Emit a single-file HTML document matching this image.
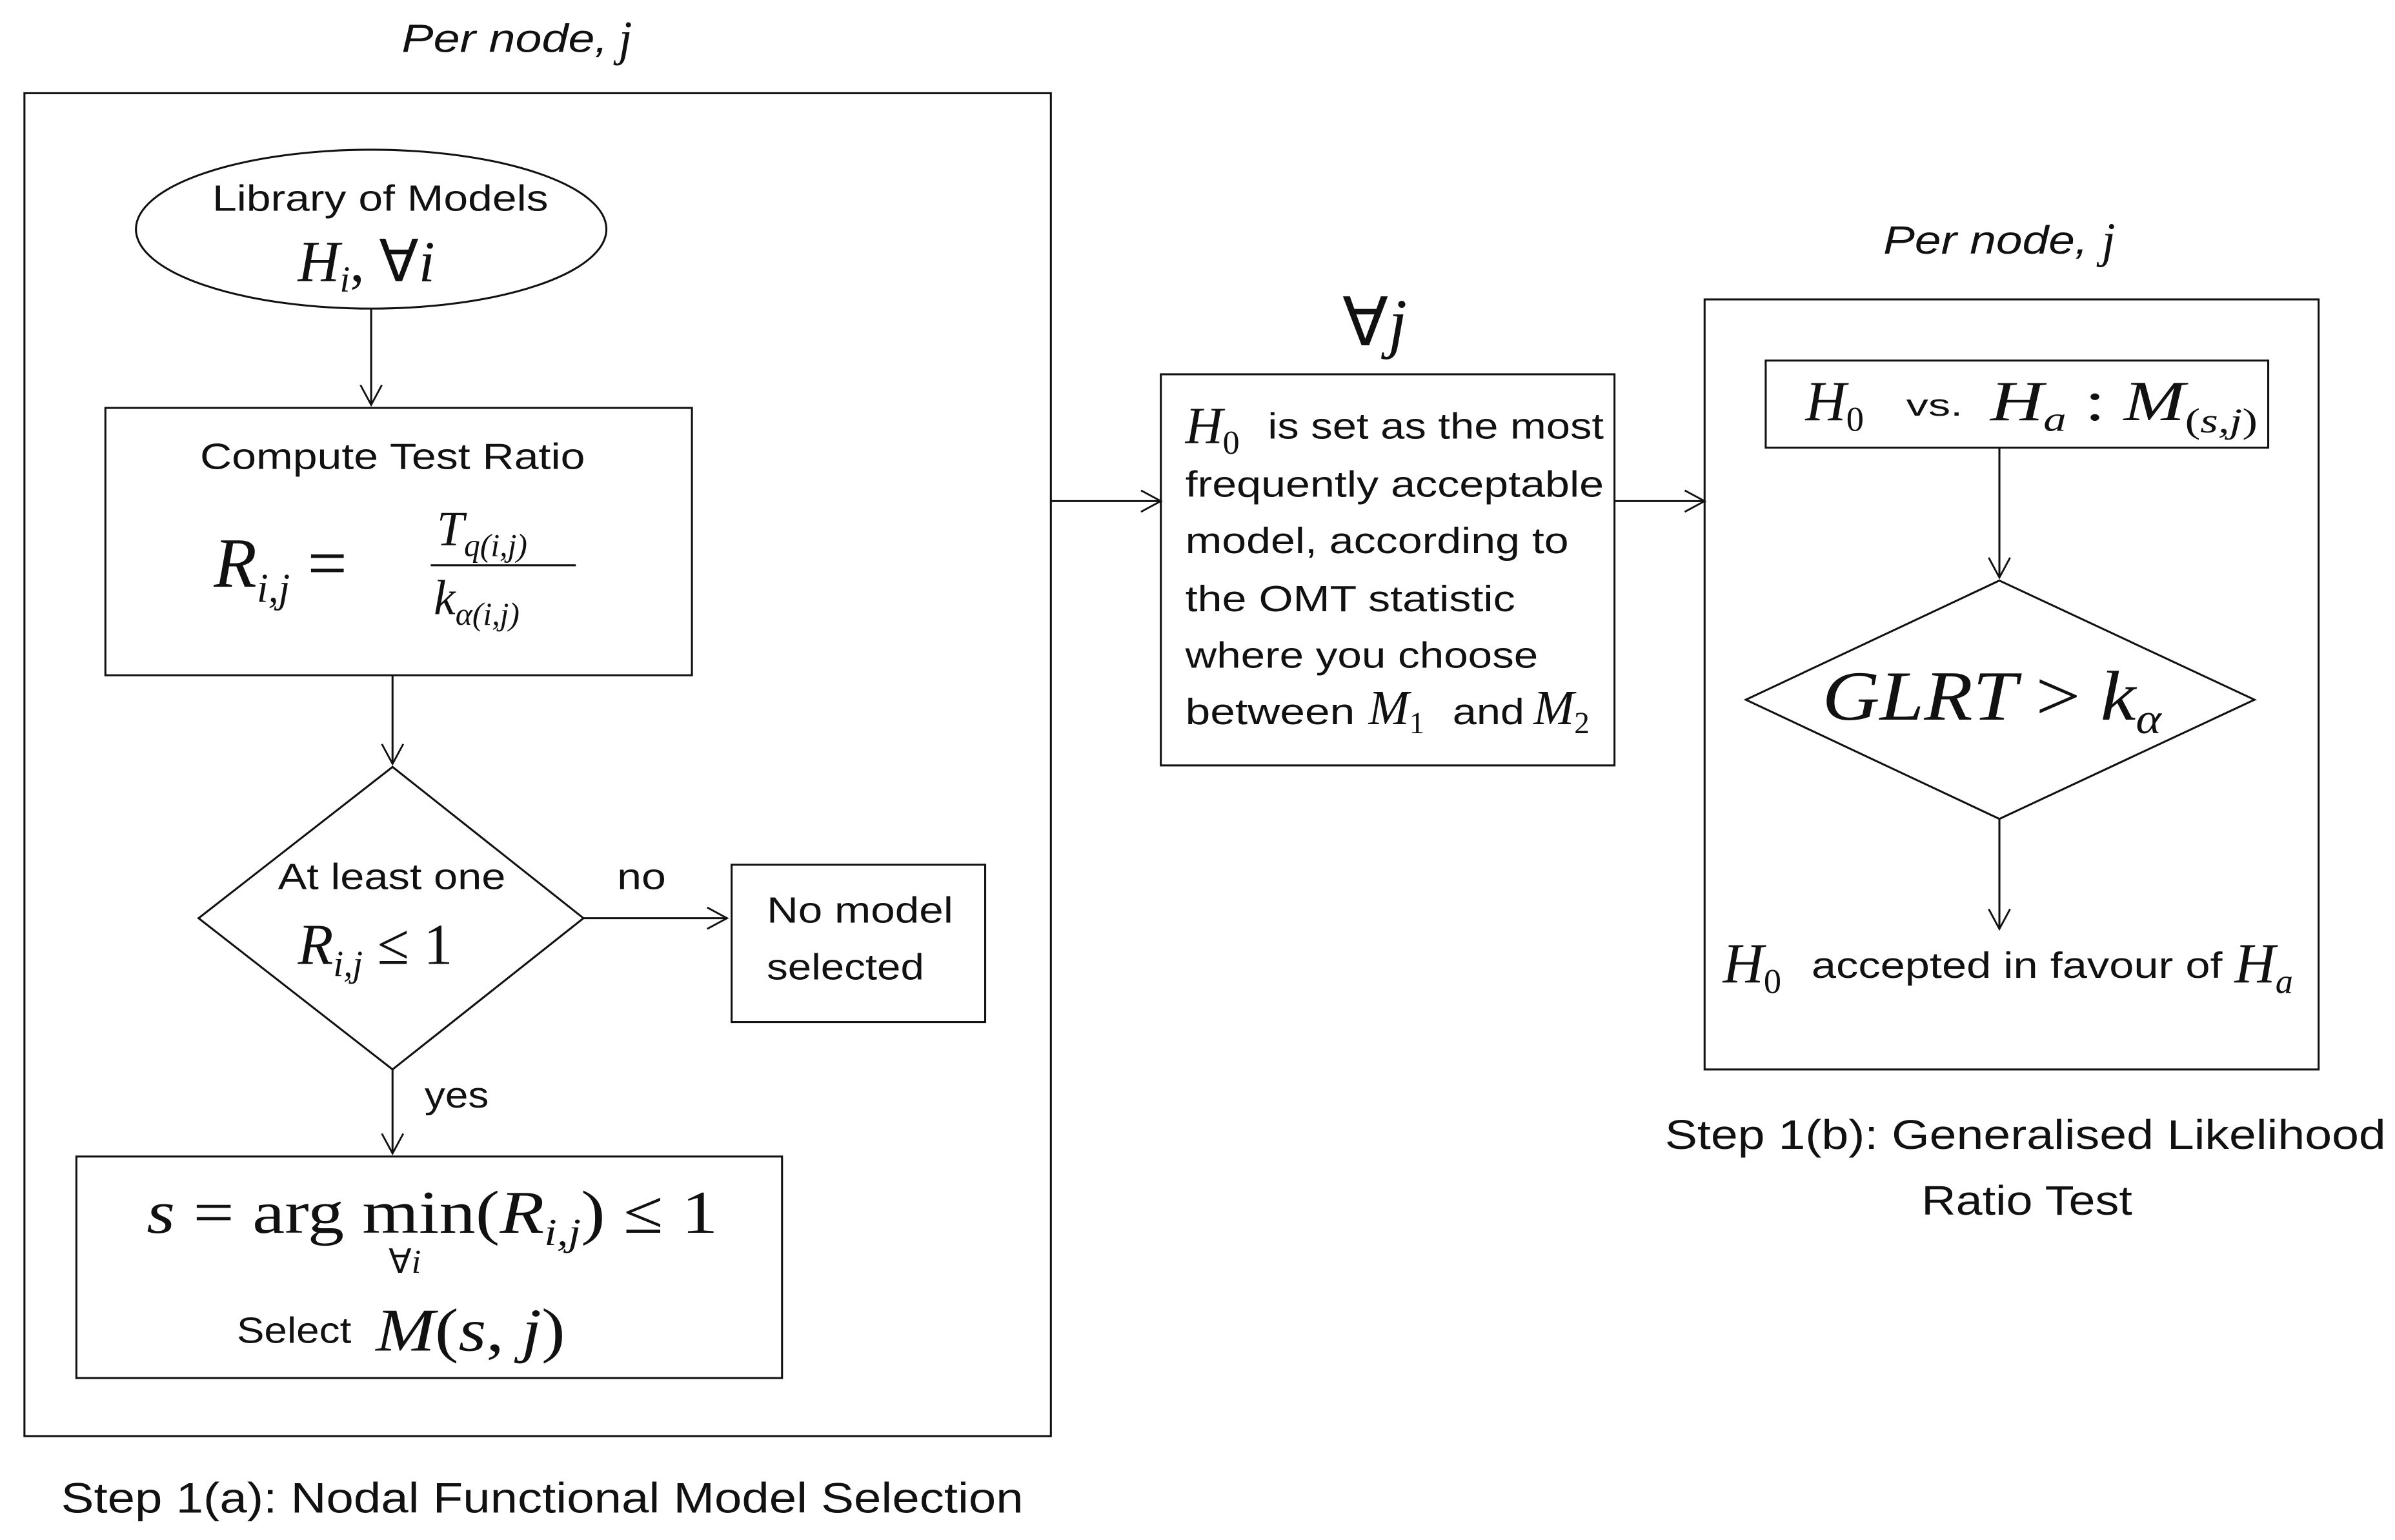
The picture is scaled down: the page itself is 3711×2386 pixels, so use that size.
<!DOCTYPE html>
<html><head><meta charset="utf-8"><style>
html,body{margin:0;padding:0;background:#fff;}
svg{display:block;}
.s{font-family:"Liberation Sans",sans-serif;fill:#111;}
.m{font-family:"Liberation Serif",serif;font-style:italic;fill:#111;}
.r{font-family:"Liberation Serif",serif;fill:#111;}
</style></head><body>
<svg width="3711" height="2386" viewBox="0 0 1568 1008" preserveAspectRatio="none" xmlns="http://www.w3.org/2000/svg">
<defs><marker id="a" markerWidth="20" markerHeight="20" refX="14" refY="8" orient="auto" markerUnits="userSpaceOnUse"><polyline points="1,1 14,8 1,15" fill="none" stroke="#111" stroke-width="1.2"/></marker></defs>
<g fill="none" stroke="#111" stroke-width="1.3">
<rect x="16" y="61" width="672" height="879"/>
<ellipse cx="243" cy="150" rx="154" ry="52"/>
<rect x="69" y="267" width="384" height="175"/>
<polygon points="257,502 382,601 257,700 130,601"/>
<rect x="479" y="566" width="166" height="103"/>
<rect x="50" y="757" width="462" height="145"/>
<rect x="760" y="245" width="297" height="256"/>
<rect x="1116" y="196" width="402" height="504"/>
<rect x="1156" y="236" width="329" height="57"/>
<polygon points="1309,380 1476,458 1309,536 1143,458"/>
<line x1="243" y1="202" x2="243" y2="265" marker-end="url(#a)"/>
<line x1="257" y1="442" x2="257" y2="500" marker-end="url(#a)"/>
<line x1="382" y1="601" x2="476" y2="601" marker-end="url(#a)"/>
<line x1="257" y1="700" x2="257" y2="755" marker-end="url(#a)"/>
<line x1="688" y1="328" x2="760" y2="328" marker-end="url(#a)"/>
<line x1="1057" y1="328" x2="1116" y2="328" marker-end="url(#a)"/>
<line x1="1309" y1="293" x2="1309" y2="378" marker-end="url(#a)"/>
<line x1="1309" y1="536" x2="1309" y2="608" marker-end="url(#a)"/>
<line x1="282" y1="370" x2="377" y2="370"/>
</g>
<text class="s" x="263" y="34" font-size="26" font-style="italic" textLength="135" lengthAdjust="spacingAndGlyphs">Per node,</text>
<text class="m" x="405" y="36" font-size="32">j</text>
<text class="s" x="139" y="138" font-size="24" textLength="220" lengthAdjust="spacingAndGlyphs">Library of Models</text>
<text class="m" x="195" y="184" font-size="38">H<tspan font-size="24" dy="7">i</tspan><tspan dy="-7" font-style="normal">, ∀</tspan>i</text>
<text class="s" x="131" y="307" font-size="24" textLength="252" lengthAdjust="spacingAndGlyphs">Compute Test  Ratio</text>
<text class="m" x="140" y="384" font-size="46">R<tspan font-size="27" dy="10">i,j</tspan><tspan class="r" font-style="normal" dy="-10"> =</tspan></text>
<text class="m" x="286" y="357" font-size="32">T<tspan font-size="21" dy="7">q(i,j)</tspan></text>
<text class="m" x="284" y="402" font-size="32">k<tspan font-size="21" dy="7">α(i,j)</tspan></text>
<text class="s" x="182" y="582" font-size="24" textLength="149" lengthAdjust="spacingAndGlyphs">At least one</text>
<text class="m" x="195" y="631" font-size="38">R<tspan font-size="24" dy="8">i,j</tspan><tspan font-style="normal" dy="-8"> ≤ 1</tspan></text>
<text class="s" x="404" y="582" font-size="24" textLength="32" lengthAdjust="spacingAndGlyphs">no</text>
<text class="s" x="502" y="604" font-size="24" textLength="122" lengthAdjust="spacingAndGlyphs">No model</text>
<text class="s" x="502" y="641" font-size="24" textLength="103" lengthAdjust="spacingAndGlyphs">selected</text>
<text class="s" x="278" y="725" font-size="24" textLength="42" lengthAdjust="spacingAndGlyphs">yes</text>
<text class="m" x="96" y="807" font-size="40" textLength="374" lengthAdjust="spacingAndGlyphs">s <tspan font-style="normal">= arg min(</tspan>R<tspan font-size="25" dy="8">i,j</tspan><tspan font-style="normal" dy="-8">) ≤ 1</tspan></text>
<text class="r" x="265" y="833" font-size="22" text-anchor="middle">∀<tspan font-style="italic">i</tspan></text>
<text class="s" x="155" y="879" font-size="24" textLength="75" lengthAdjust="spacingAndGlyphs">Select</text>
<text class="m" x="246" y="884" font-size="40" textLength="124" lengthAdjust="spacingAndGlyphs">M<tspan font-style="normal">(</tspan>s<tspan font-style="normal">, </tspan>j<tspan font-style="normal">)</tspan></text>
<text class="s" x="40" y="990" font-size="28" textLength="630" lengthAdjust="spacingAndGlyphs">Step 1(a): Nodal Functional Model Selection</text>
<text class="r" x="900" y="226" font-size="44" text-anchor="middle">∀<tspan font-style="italic">j</tspan></text>
<text class="m" x="776" y="290" font-size="34">H<tspan font-size="22" dy="7" font-style="normal">0</tspan></text>
<g class="s" font-size="24">
<text x="830" y="287" textLength="220" lengthAdjust="spacingAndGlyphs">is set as the most</text>
<text x="776" y="325" textLength="274" lengthAdjust="spacingAndGlyphs">frequently acceptable</text>
<text x="776" y="362" textLength="251" lengthAdjust="spacingAndGlyphs">model, according to</text>
<text x="776" y="400" textLength="216" lengthAdjust="spacingAndGlyphs">the OMT statistic</text>
<text x="776" y="437" textLength="231" lengthAdjust="spacingAndGlyphs">where you choose</text>
<text x="776" y="474" textLength="111" lengthAdjust="spacingAndGlyphs">between</text>
<text x="951" y="474" textLength="47" lengthAdjust="spacingAndGlyphs">and</text>
</g>
<text class="m" x="896" y="474" font-size="32">M<tspan font-size="20" dy="6" font-style="normal">1</tspan></text>
<text class="m" x="1004" y="474" font-size="32">M<tspan font-size="20" dy="6" font-style="normal">2</tspan></text>
<text class="s" x="1233" y="166" font-size="26" font-style="italic" textLength="134" lengthAdjust="spacingAndGlyphs">Per node,</text>
<text class="m" x="1376" y="168" font-size="32">j</text>
<text class="m" x="1182" y="275" font-size="37">H<tspan font-size="23" dy="7" font-style="normal">0</tspan></text>
<text class="s" x="1248" y="272" font-size="20" textLength="37" lengthAdjust="spacingAndGlyphs">vs.</text>
<text class="m" x="1303" y="275" font-size="37" textLength="175" lengthAdjust="spacingAndGlyphs">H<tspan font-size="23" dy="7">a</tspan><tspan dy="-7" font-style="normal"> : </tspan>M<tspan font-size="23" dy="8" font-style="normal">(<tspan font-style="italic">s,j</tspan>)</tspan></text>
<text class="m" x="1193" y="471" font-size="46" textLength="222" lengthAdjust="spacingAndGlyphs">GLRT <tspan font-style="normal">&gt;</tspan> k<tspan font-size="28" dy="9">α</tspan></text>
<text class="m" x="1128" y="643" font-size="37">H<tspan font-size="23" dy="7" font-style="normal">0</tspan></text>
<text class="s" x="1186" y="640" font-size="24" textLength="269" lengthAdjust="spacingAndGlyphs">accepted in favour of</text>
<text class="m" x="1463" y="643" font-size="37">H<tspan font-size="23" dy="7">a</tspan></text>
<text class="s" x="1090" y="752" font-size="27" textLength="472" lengthAdjust="spacingAndGlyphs">Step 1(b): Generalised  Likelihood</text>
<text class="s" x="1258" y="795" font-size="27" textLength="138" lengthAdjust="spacingAndGlyphs">Ratio Test</text>
</svg>
</body></html>
